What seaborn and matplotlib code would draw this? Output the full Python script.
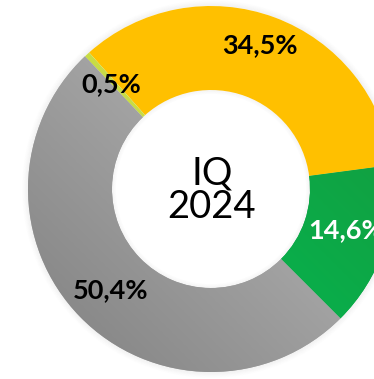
import numpy as np
import matplotlib
matplotlib.use("Agg")
import matplotlib.pyplot as plt
from matplotlib.patches import Wedge
from matplotlib.colors import LinearSegmentedColormap
import seaborn as sns

# Share of each segment, IQ 2024 (listed counter-clockwise from the lower right)
segments = ["Verde", "Amarillo", "Verde claro", "Gris"]
shares = [14.6, 34.5, 0.5, 50.4]
labels = ["14,6%", "34,5%", "0,5%", "50,4%"]
label_colors = ["white", "black", "black", "black"]
center_text = "IQ\n2024"

sns.set_theme(style="white")
plt.rcParams["font.family"] = ["Lato", "DejaVu Sans"]

W, H = 374, 379
fig = plt.figure(figsize=(W / 100, H / 100), dpi=100)
ax = fig.add_axes([0, 0, 1, 1])

cx, cy, R = 211, 189, 183  # centre and outer radius in pixels
r_in = 99 / 183

wedges, _ = ax.pie(shares, startangle=-45, counterclock=True, radius=1,
                   colors=["#0aa84a", "#ffc000", "#c8dc45", "#a6a6a6"],
                   wedgeprops=dict(width=1 - r_in, linewidth=0))
for w in wedges:
    w.set_zorder(1)

# soft halo just outside the ring (thin annuli, fading outward)
step = 1 / 183
for i in range(6):
    a = 0.05 * (1 - i / 6)
    ax.add_patch(Wedge((0, 0), 1 + (i + 1) * step, 0, 360, width=step,
                       color="black", alpha=a, lw=0, zorder=0))

# faint shadow just inside the hole
for i in range(4):
    a = 0.04 * (1 - i / 4)
    ax.add_patch(Wedge((0, 0), r_in - i * step, 0, 360, width=step,
                       color="black", alpha=a, lw=0, zorder=3))

# gradient fills clipped to the green and grey wedges
xs = np.linspace(-1, 1, 300)
gx, gy = np.meshgrid(xs, xs)
grad_specs = {
    0: (["#3fc35c", "#0aad4a", "#17973b"], (1, 1)),
    3: (["#808080", "#a2a2a2", "#b6b6b6"], (1, 1)),
}
for idx, (cols, (dx, dy)) in grad_specs.items():
    t = (gx * dx + gy * dy)
    t = (t - t.min()) / (t.max() - t.min())
    cmap = LinearSegmentedColormap.from_list(f"g{idx}", cols)
    im = ax.imshow(t, cmap=cmap, extent=(-1, 1, -1, 1), origin="lower",
                   zorder=2, interpolation="bilinear")
    im.set_clip_path(wedges[idx])

ax.set_xlim(-cx / R, (W - cx) / R)
ax.set_ylim(-(H - cy) / R, cy / R)
ax.set_aspect("equal")
ax.axis("off")

def px(x, y):
    return (x - cx) / R, (cy - y) / R

label_pos = [(308, 230), (260, 45), (111, 84), (111, 290)]
label_ha = ["left", "center", "center", "center"]
for lab, col, (x, y), ha in zip(labels, label_colors, label_pos, label_ha):
    ax.text(*px(x, y), lab, ha=ha, va="center", color=col,
            fontsize=19.5, fontweight="bold", zorder=5)

ax.text(*px(212, 190), center_text, ha="center", va="center",
        fontsize=27.5, color="black", linespacing=0.93, zorder=5)

fig.savefig("out.png", dpi=100)
